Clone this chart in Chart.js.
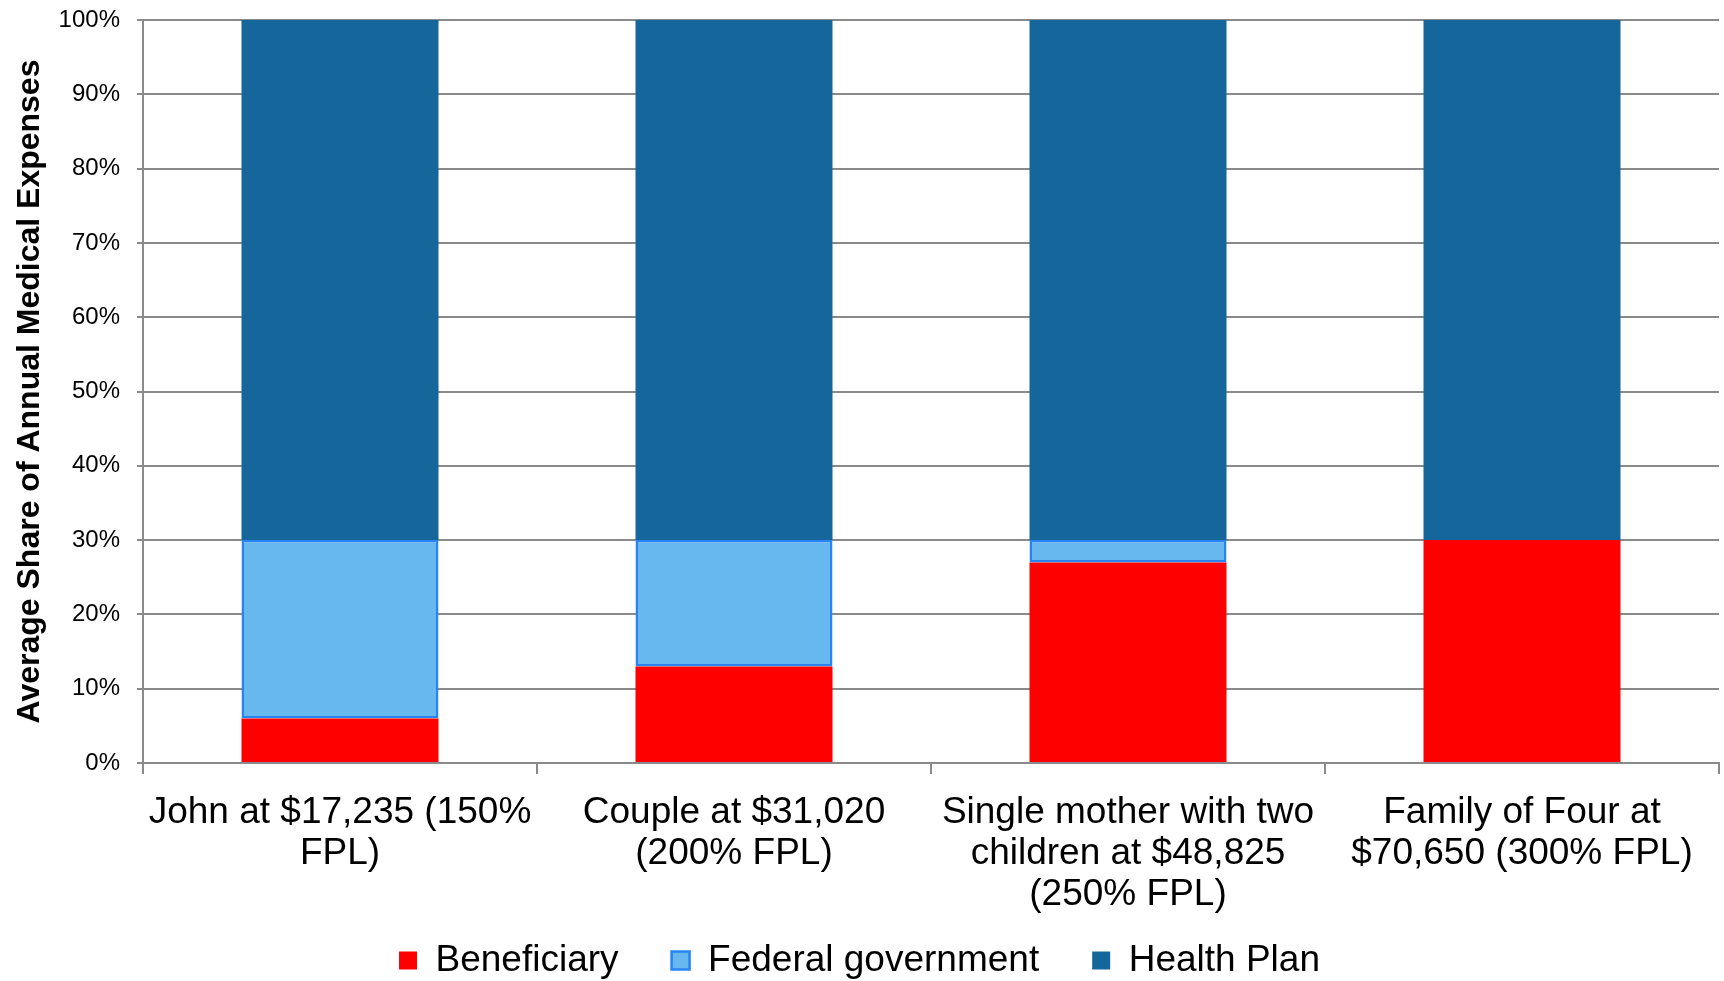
<!DOCTYPE html>
<html>
<head>
<meta charset="utf-8">
<title>Average Share of Annual Medical Expenses</title>
<script src="https://cdn.jsdelivr.net/npm/chart.js@4.4.1/dist/chart.umd.min.js"></script>
<style>
    html, body {
        margin: 0;
        padding: 0;
        background: #ffffff;
    }
    #chart-box {
        position: relative;
        width: 1724px;
        height: 981px;
    }
</style>
</head>
<body>
<div id="chart-box">
    <canvas id="share-chart" width="1724" height="981"></canvas>
</div>
<script>
// household groups, one label line per array entry...
var categories = [
    ['John at $17,235 (150%', 'FPL)'],
    ['Couple at $31,020', '(200% FPL)'],
    ['Single mother with two', 'children at $48,825', '(250% FPL)'],
    ['Family of Four at', '$70,650 (300% FPL)']
];

// share of expenses in percent, stacked bottom to top...
var beneficiary = [6, 13, 27, 30];
var federalGovernment = [24, 17, 3, 0];
var healthPlan = [70, 70, 70, 70];

var yTicks = [0, 10, 20, 30, 40, 50, 60, 70, 80, 90, 100];

var FONT = '"Liberation Sans", Arial, Helvetica, sans-serif';
var GRID = '#8a8a8a';

// gap between the plot bottom and the legend row...
var X_LABEL_SPACE = 126;
var X_AXIS_BOX = 160;

Chart.defaults.font.family = FONT;
Chart.defaults.color = '#000000';

// x labels are clipped to their own box, so the axis box is kept tall
// and the legend row is pulled back up over it after layout...
var legendRow = {
    id: 'legendRow',
    afterLayout: function (chart) {
        var legend = chart.legend;

        legend.top = chart.chartArea.bottom + X_LABEL_SPACE;
        legend.bottom = chart.height;
        legend.height = legend.bottom - legend.top;
    }
};

var ctx = document.getElementById('share-chart').getContext('2d');

var chart = new Chart(ctx, {
    type: 'bar',
    data: {
        labels: categories,
        datasets: [
            {
                label: 'Beneficiary',
                data: beneficiary,
                backgroundColor: '#ff0000',
                borderWidth: 0
            },
            {
                label: 'Federal government',
                data: federalGovernment,
                backgroundColor: '#66b8ee',
                borderColor: '#2884f4',
                borderWidth: 2.5,
                borderSkipped: false
            },
            {
                label: 'Health Plan',
                data: healthPlan,
                backgroundColor: '#14669b',
                borderWidth: 0
            }
        ]
    },
    options: {
        responsive: false,
        animation: false,
        categoryPercentage: 1.0,
        barPercentage: 0.5,
        layout: {
            padding: {top: 20, right: 5, bottom: 0, left: 0}
        },
        plugins: {
            tooltip: {enabled: false},
            legend: {
                position: 'bottom',
                labels: {
                    boxWidth: 18,
                    boxHeight: 18,
                    padding: 53,
                    color: '#000000',
                    font: {size: 37}
                }
            }
        },
        scales: {
            x: {
                stacked: true,
                grid: {
                    offset: true,
                    drawOnChartArea: false,
                    drawTicks: true,
                    tickLength: 11,
                    color: GRID,
                    lineWidth: 2
                },
                border: {color: GRID, width: 2},
                ticks: {
                    maxRotation: 0,
                    autoSkip: false,
                    padding: 18,
                    color: '#000000',
                    font: {size: 37, lineHeight: 1.11}
                },
                afterFit: function (scale) {
                    scale.height = X_AXIS_BOX;
                }
            },
            y: {
                stacked: true,
                min: 0,
                max: 100,
                grid: {
                    color: GRID,
                    lineWidth: 2,
                    tickLength: 6
                },
                border: {color: GRID, width: 2},
                ticks: {
                    stepSize: 10,
                    padding: 17,
                    color: '#000000',
                    font: {size: 24},
                    callback: function (value) {
                        return yTicks.indexOf(value) >= 0 ? value + '%' : '';
                    }
                },
                title: {
                    display: true,
                    text: 'Average Share of Annual Medical Expenses',
                    color: '#000000',
                    padding: {top: 11, bottom: 0},
                    font: {size: 32, weight: 'bold'}
                },
                afterFit: function (scale) {
                    scale.width = 143;
                    // the layout padding already leaves room for the 100% label...
                    scale.paddingTop = 0;
                    scale.paddingBottom = 0;
                }
            }
        }
    },
    plugins: [legendRow]
});

// legend takes only what is left under the x axis box...
var legendFit = chart.legend.fit;
chart.legend.fit = function () {
    legendFit.call(this);
    this.height = 981 - 763 - X_AXIS_BOX;
};
chart.update();
</script>
</body>
</html>
